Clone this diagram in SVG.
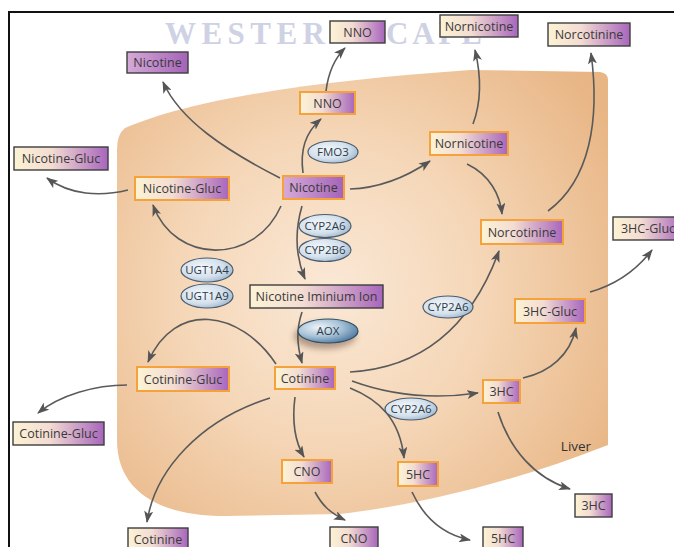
<svg xmlns="http://www.w3.org/2000/svg" width="674" height="547" viewBox="0 0 674 547">
<defs>
<radialGradient id="liverG" cx="330" cy="290" r="330" gradientUnits="userSpaceOnUse">
<stop offset="0" stop-color="#fae8d6"/>
<stop offset="0.45" stop-color="#f5d7b8"/>
<stop offset="1" stop-color="#e8b584"/>
</radialGradient>
<linearGradient id="boxG" x1="0" y1="0" x2="1" y2="0">
<stop offset="0" stop-color="#fcf3d4"/>
<stop offset="0.4" stop-color="#f3dcd2"/>
<stop offset="1" stop-color="#a866bc"/>
</linearGradient>
<linearGradient id="nicG" x1="0" y1="0" x2="1" y2="0">
<stop offset="0" stop-color="#d6aad8"/>
<stop offset="1" stop-color="#a463b8"/>
</linearGradient>
<radialGradient id="enzG" cx="0.4" cy="0.4" r="0.7">
<stop offset="0" stop-color="#f4f8fc"/>
<stop offset="0.6" stop-color="#d3e0ec"/>
<stop offset="1" stop-color="#97b1c9"/>
</radialGradient>
<radialGradient id="aoxG" cx="0.35" cy="0.35" r="0.75">
<stop offset="0" stop-color="#eef4f9"/>
<stop offset="0.5" stop-color="#a9c3d8"/>
<stop offset="1" stop-color="#45739a"/>
</radialGradient>
<filter id="blur" x="-50%" y="-50%" width="200%" height="200%">
<feGaussianBlur stdDeviation="3"/>
</filter>
<marker id="arr" viewBox="0 0 12 9" refX="11" refY="4.5" markerWidth="12" markerHeight="9" markerUnits="userSpaceOnUse" orient="auto">
<path d="M0,0 L12,4.5 L0,9 L3,4.5 Z" fill="#555"/>
</marker>
</defs>
<style>
.in{fill:url(#boxG);stroke:#f5a23a;stroke-width:2}
.out{fill:url(#boxG);stroke:#3e3e3e;stroke-width:1.4}
.nin{fill:url(#nicG);stroke:#f5a23a;stroke-width:2}
.nout{fill:url(#nicG);stroke:#3e3e3e;stroke-width:1.4}
.enz{fill:url(#enzG);stroke:#4c5c6c;stroke-width:1.2}
.lbl{font-family:"Open Sans","Liberation Sans",sans-serif;font-size:12.5px;fill:#3a3a3a;text-anchor:middle}
.elbl{font-family:"Open Sans","Liberation Sans",sans-serif;font-size:11.5px;fill:#2e3a46;text-anchor:middle}
.wm{font-family:"Liberation Serif",serif;font-size:31px;font-weight:bold;fill:#cfd2e4}
.c{fill:none;stroke:#5a5a5a;stroke-width:1.6;marker-end:url(#arr)}
</style>
<rect x="0" y="0" width="674" height="547" fill="#ffffff"/>
<rect x="9" y="12" width="700" height="560" fill="none" stroke="#111" stroke-width="2"/>
<text class="wm" x="165" y="44" textLength="160" lengthAdjust="spacing">WESTER</text>
<text class="wm" x="386" y="44" textLength="96" lengthAdjust="spacing">CAPE</text>
<g id="liver">
<path d="M125,128 C200,96 330,80 470,70 L600,72 Q608,73 608,80 L608,445 C520,480 420,505 340,514 L225,516 C160,516 117,492 117,440 L117,150 Q117,134 125,128 Z" fill="url(#liverG)"/>
<text x="576" y="451" font-family="Open Sans,Liberation Sans,sans-serif" font-size="13.5" fill="#333" text-anchor="middle">Liver</text>
</g>
<g id="connectors">
<path class="c" d="M280,178 C225,150 180,120 163,82"/>
<path class="c" d="M303,173 C300,150 305,133 321,119"/>
<path class="c" d="M326,91 C328,75 333,60 345,48"/>
<path class="c" d="M350,189 C380,188 405,178 430,161"/>
<path class="c" d="M473,124 C482,100 481,75 475,50"/>
<path class="c" d="M467,164 C490,175 500,195 502,214"/>
<path class="c" d="M548,211 C590,180 600,120 591,53"/>
<path class="c" d="M281,206 C255,265 175,265 153,205"/>
<path class="c" d="M128,190 C100,197 70,195 47,178"/>
<path class="c" d="M302,206 C295,230 295,255 305,279"/>
<path class="c" d="M302,312 C296,330 297,345 302,363"/>
<path class="c" d="M276,364 C240,310 175,300 148,362"/>
<path class="c" d="M127,385 C95,385 60,395 38,413"/>
<path class="c" d="M350,372 C420,368 470,330 499,251"/>
<path class="c" d="M352,381 C390,395 430,400 478,393"/>
<path class="c" d="M350,388 C380,400 400,420 404,458"/>
<path class="c" d="M295,397 C292,420 294,440 304,457"/>
<path class="c" d="M270,398 C200,420 155,470 147,522"/>
<path class="c" d="M315,492 C322,505 330,513 345,520"/>
<path class="c" d="M412,492 C425,520 445,535 470,540"/>
<path class="c" d="M498,412 C510,450 535,478 570,489"/>
<path class="c" d="M523,378 C550,372 570,355 576,328"/>
<path class="c" d="M590,292 C615,285 635,272 652,250"/>
</g>
<g id="nicotine_out"><rect class="nout" x="127" y="52" width="61" height="21"/><text class="lbl" x="157.5" y="67">Nicotine</text></g>
<g id="nno_out"><rect class="out" x="330" y="21" width="55" height="22"/><text class="lbl" x="357.5" y="36.5">NNO</text></g>
<g id="nornicotine_out"><rect class="out" x="440" y="15" width="78" height="22"/><text class="lbl" x="479" y="30.5">Nornicotine</text></g>
<g id="norcotinine_out"><rect class="out" x="548" y="23" width="82" height="23"/><text class="lbl" x="589" y="39">Norcotinine</text></g>
<g id="nicgluc_out"><rect class="out" x="14" y="147" width="94" height="23"/><text class="lbl" x="61" y="163">Nicotine-Gluc</text></g>
<g id="hcgluc_out"><rect class="out" x="613" y="217" width="70" height="23"/><text class="lbl" x="648" y="233">3HC-Gluc</text></g>
<g id="cotgluc_out"><rect class="out" x="13" y="422" width="91" height="23"/><text class="lbl" x="58.5" y="438">Cotinine-Gluc</text></g>
<g id="cotinine_out"><rect class="out" x="128" y="528" width="60" height="22"/><text class="lbl" x="158" y="543.5">Cotinine</text></g>
<g id="cno_out"><rect class="out" x="330" y="527" width="48" height="22"/><text class="lbl" x="354" y="542.5">CNO</text></g>
<g id="hc5_out"><rect class="out" x="483" y="527" width="40" height="22"/><text class="lbl" x="503" y="542.5">5HC</text></g>
<g id="hc3_out"><rect class="out" x="575" y="494" width="37" height="23"/><text class="lbl" x="593.5" y="510">3HC</text></g>
<g id="nno_in"><rect class="in" x="300" y="92" width="55" height="22"/><text class="lbl" x="327.5" y="107.5">NNO</text></g>
<g id="nicotine_in"><rect class="nin" x="283" y="176" width="61" height="23"/><text class="lbl" x="313.5" y="192">Nicotine</text></g>
<g id="nornicotine_in"><rect class="in" x="430" y="132" width="78" height="23"/><text class="lbl" x="469" y="148">Nornicotine</text></g>
<g id="nicgluc_in"><rect class="in" x="135" y="177" width="94" height="23"/><text class="lbl" x="182" y="193">Nicotine-Gluc</text></g>
<g id="norcotinine_in"><rect class="in" x="481" y="220" width="82" height="24"/><text class="lbl" x="522" y="236.5">Norcotinine</text></g>
<g id="iminium"><rect class="out" x="250" y="285" width="133" height="23"/><text class="lbl" x="316.5" y="301">Nicotine Iminium Ion</text></g>
<g id="hcgluc_in"><rect class="in" x="515" y="299" width="70" height="24"/><text class="lbl" x="550" y="315.5">3HC-Gluc</text></g>
<g id="cotgluc_in"><rect class="in" x="137" y="367" width="92" height="24"/><text class="lbl" x="183" y="383.5">Cotinine-Gluc</text></g>
<g id="cotinine_in"><rect class="in" x="275" y="367" width="60" height="22"/><text class="lbl" x="305" y="382.5">Cotinine</text></g>
<g id="hc3_in"><rect class="in" x="483" y="380" width="37" height="23"/><text class="lbl" x="501.5" y="396">3HC</text></g>
<g id="cno_in"><rect class="in" x="282" y="460" width="50" height="23"/><text class="lbl" x="307" y="476">CNO</text></g>
<g id="hc5_in"><rect class="in" x="398" y="462" width="40" height="24"/><text class="lbl" x="418" y="478.5">5HC</text></g>
<g id="fmo3"><ellipse class="enz" cx="333" cy="152" rx="25" ry="11"/><text class="elbl" x="333" y="156">FMO3</text></g>
<g id="cyp2a6_1"><ellipse class="enz" cx="325" cy="226" rx="26" ry="11.5"/><text class="elbl" x="325" y="230">CYP2A6</text></g>
<g id="cyp2b6"><ellipse class="enz" cx="325" cy="250" rx="26" ry="11.5"/><text class="elbl" x="325" y="254">CYP2B6</text></g>
<g id="ugt1a4"><ellipse class="enz" cx="207" cy="270" rx="26" ry="12"/><text class="elbl" x="207" y="274">UGT1A4</text></g>
<g id="ugt1a9"><ellipse class="enz" cx="207" cy="296" rx="26" ry="12"/><text class="elbl" x="207" y="300">UGT1A9</text></g>
<g id="aox"><ellipse cx="325" cy="336" rx="31" ry="13" fill="#5a4030" opacity="0.45" filter="url(#blur)"/><ellipse cx="328" cy="331" rx="30" ry="12" fill="url(#aoxG)" stroke="#2f4c62" stroke-width="1.2"/><text class="elbl" x="328" y="335">AOX</text></g>
<g id="cyp2a6_2"><ellipse class="enz" cx="448" cy="307" rx="25" ry="11"/><text class="elbl" x="448" y="311">CYP2A6</text></g>
<g id="cyp2a6_3"><ellipse class="enz" cx="411" cy="409" rx="26" ry="11"/><text class="elbl" x="411" y="413">CYP2A6</text></g>
</svg>
